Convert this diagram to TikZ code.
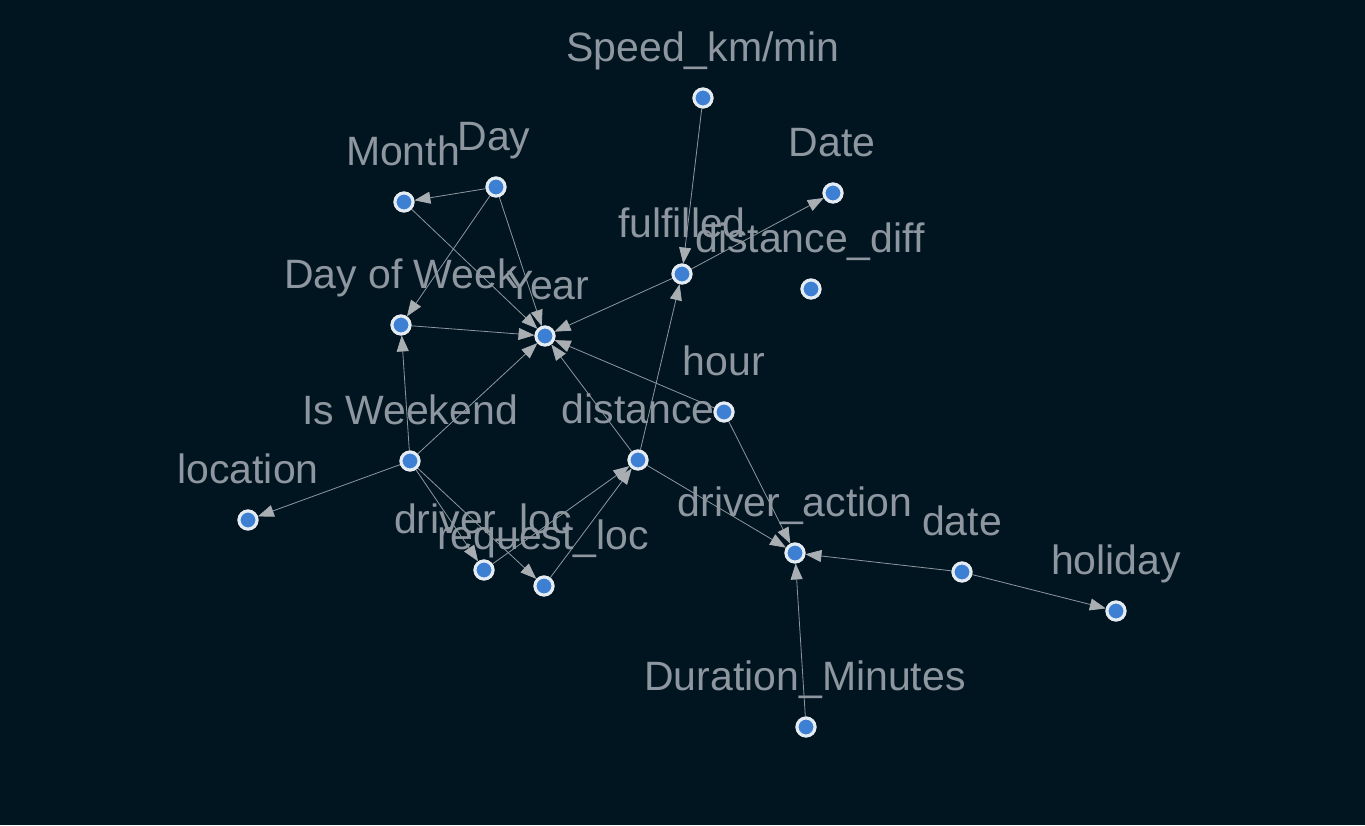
\documentclass[tikz,border=0pt]{standalone}
\usepackage{fontspec}
\setmainfont{Liberation Sans}
\usetikzlibrary{arrows.meta}
\definecolor{bg}{HTML}{011521}
\definecolor{lbl}{HTML}{8E979F}
\definecolor{edgec}{HTML}{8F979E}
\definecolor{tipc}{HTML}{A9AEB3}
\definecolor{ring}{HTML}{E4EBF2}
\definecolor{dot}{HTML}{3D7FD2}
\begin{document}
\begin{tikzpicture}[x=1pt,y=-1pt,
  vert/.style={circle,draw=ring,fill=dot,line width=3pt,minimum size=18pt,inner sep=0pt,outer sep=1.5pt},
  lab/.style={text=lbl,font=\fontsize{41}{48}\selectfont,anchor=base,inner sep=0pt},
  link/.style={draw=edgec,line width=0.8pt,-{Triangle[length=16pt,width=12pt,color=tipc]}}]
\fill[bg] (0,0) rectangle (1365,825);
\useasboundingbox (0,0) rectangle (1365,825);
% labels
\node[lab] (lspeed) at (703,61) {Speed\_km/min};
\node[lab] (lmonth) at (403,165) {Month};
\node[lab] (lday) at (494,150) {Day};
\node[lab] (lDate) at (832,156) {Date};
\node[lab] (lful) at (682,237) {fulfilled};
\node[lab] (ldd) at (810,252) {distance\_diff};
\node[lab] (ldow) at (401,288) {Day of Week};
\node[lab] (lyear) at (548,299) {Year};
\node[lab] (lhour) at (724,375) {hour};
\node[lab] (lwe) at (410,424) {Is Weekend};
\node[lab] (ldist) at (638,423) {distance};
\node[lab] (lloc) at (248,483) {location};
\node[lab] (lda) at (795,516) {driver\_action};
\node[lab] (ldate) at (962,535) {date};
\node[lab] (lhol) at (1116,574) {holiday};
\node[lab] (ldl) at (483,533) {driver\_loc};
\node[lab] (lrl) at (543,549) {request\_loc};
\node[lab] (ldur) at (805,690) {Duration\_Minutes};
% vertex positions
\path (703,98) coordinate (cspeed) (404,202) coordinate (cmonth) (496,187) coordinate (cday)
 (833,193) coordinate (cDate) (682,274) coordinate (cful) (811,289) coordinate (cdd)
 (401,325) coordinate (cdow) (545,336) coordinate (cyear) (724,412) coordinate (chour)
 (410,461) coordinate (cwe) (638,460) coordinate (cdist) (248,520) coordinate (cloc)
 (795,553) coordinate (cda) (962,572) coordinate (cdate) (1116,611) coordinate (chol)
 (484,570) coordinate (cdl) (544,586) coordinate (crl) (806,727) coordinate (cdur);
\foreach \n in {speed,month,day,Date,ful,dd,dow,year,hour,we,dist,loc,da,date,hol,dl,rl,dur}
  \node[vert] (\n) at (c\n) {};
% edges
\draw[link] (day) -- (month);
\draw[link] (day) -- (dow);
\draw[link] (day) -- (year);
\draw[link] (month) -- (year);
\draw[link] (dow) -- (year);
\draw[link] (ful) -- (year);
\draw[link] (ful) -- (Date);
\draw[link] (speed) -- (ful);
\draw[link] (dist) -- (ful);
\draw[link] (dist) -- (year);
\draw[link] (hour) -- (year);
\draw[link] (we) -- (year);
\draw[link] (we) -- (dow);
\draw[link] (we) -- (loc);
\draw[link] (we) -- (dl);
\draw[link] (we) -- (rl);
\draw[link] (dl) -- (dist);
\draw[link] (rl) -- (dist);
\draw[link] (dist) -- (da);
\draw[link] (hour) -- (da);
\draw[link] (date) -- (da);
\draw[link] (date) -- (hol);
\draw[link] (dur) -- (da);
% redraw vertices on top
\foreach \n in {speed,month,day,Date,ful,dd,dow,year,hour,we,dist,loc,da,date,hol,dl,rl,dur}
  \node[vert] at (c\n) {};
\end{tikzpicture}
\end{document}
